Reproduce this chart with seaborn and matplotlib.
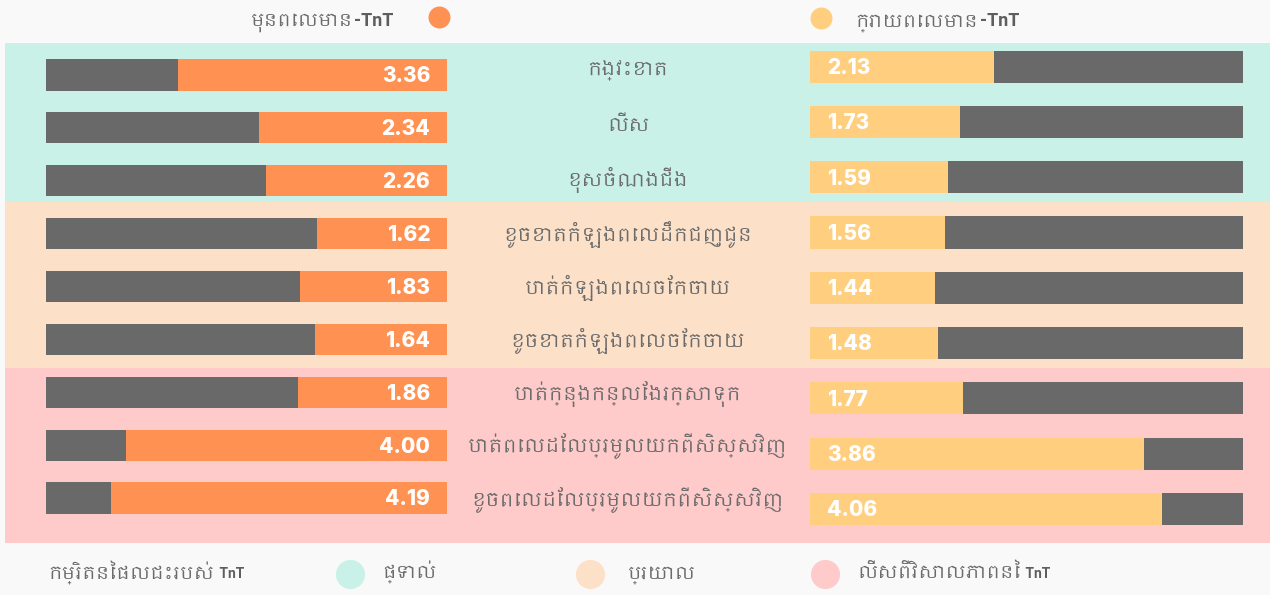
import matplotlib
matplotlib.use("Agg")
import matplotlib.pyplot as plt
import seaborn as sns
from matplotlib import font_manager
from matplotlib.ft2font import FT2Font
from matplotlib.patches import Rectangle

# Data
categories = [
    "កង្វះខាត",
    "លើស",
    "ខុសចំណងជើង",
    "ខូចខាតកំឡុងពេលដឹកជញ្ជូន",
    "បាត់កំឡុងពេលចែកចាយ",
    "ខូចខាតកំឡុងពេលចែកចាយ",
    "បាត់ក្នុងកន្លែងរក្សាទុក",
    "បាត់ពេលដែលប្រមូលយកពីសិស្សវិញ",
    "ខូចពេលដែលប្រមូលយកពីសិស្សវិញ",
]
before_tnt = [3.36, 2.34, 2.26, 1.62, 1.83, 1.64, 1.86, 4.00, 4.19]
after_tnt = [2.13, 1.73, 1.59, 1.56, 1.44, 1.48, 1.77, 3.86, 4.06]
scale_max = [5.0] * len(categories)

series_labels = ["មុនពេលមាន", "ក្រោយពេលមាន"]
series_suffix = "-TnT"
impact_title = "កម្រិតនៃផលជះរបស់"
impact_labels = ["ផ្ទាល់", "ប្រយោល", "លើសពីវិសាលភាពនៃ"]
impact_suffix = [None, None, " TnT"]

# Colours
ORANGE = "#FF9152"
YELLOW = "#FFCE7E"
GRAY = "#696969"
TEXT = "#6B6B6B"
BG = "#F9F9F9"
BANDS = ["#C9F1E7", "#FCE1C8", "#FFCACA"]


def find_khmer_font():
    for f in font_manager.fontManager.ttflist:
        if "khmer" in f.name.lower():
            return f.name
    for f in font_manager.fontManager.ttflist:
        try:
            if 0x1780 in FT2Font(f.fname).get_charmap():
                return f.name
        except Exception:
            pass
    return None


sns.set_theme(style="white")
khmer = find_khmer_font()
families = ([khmer] if khmer else []) + ["Roboto", "DejaVu Sans"]
plt.rcParams["font.family"] = families
LATIN = ["Roboto", "DejaVu Sans"]

W, H = 1270, 595
fig = plt.figure(figsize=(W / 100, H / 100), dpi=100, facecolor=BG)
renderer = fig.canvas.get_renderer()

# background layer in pixel coordinates
bg = fig.add_axes([0, 0, 1, 1], zorder=0)
bg.set_xlim(0, W)
bg.set_ylim(H, 0)
bg.axis("off")
for (top, bottom), c in zip([(43, 202), (202, 368), (368, 543)], BANDS):
    bg.add_patch(Rectangle((5, top), W - 5, bottom - top, color=c, lw=0))


def text_right_of(t, s, size, y):
    x1 = bg.transData.inverted().transform(t.get_window_extent(renderer))[1][0]
    return bg.text(x1 + 2, y, s, ha="left", va="baseline", fontsize=size,
                   color="#5E5E5E", fontweight="bold", family=LATIN)


# legend top
suf = bg.text(393, 26, series_suffix, ha="right", va="baseline", fontsize=13,
              color="#5E5E5E", fontweight="bold", family=LATIN)
x0 = bg.transData.inverted().transform(suf.get_window_extent(renderer))[0][0]
bg.text(x0, 26, series_labels[0], ha="right", va="baseline", fontsize=13, color=TEXT)
bg.scatter([439], [17], s=250, color=ORANGE, lw=0)

bg.scatter([821], [18], s=250, color=YELLOW, lw=0)
t = bg.text(855, 26, series_labels[1], ha="left", va="baseline", fontsize=13, color=TEXT)
text_right_of(t, series_suffix, 13, 26)

# legend bottom
t = bg.text(48, 578, impact_title, ha="left", va="baseline", fontsize=13, color=TEXT)
text_right_of(t, " TnT", 10, 578)
for x_c, x_t, c, lab, sfx in zip([350, 590, 825], [382, 628, 857], BANDS,
                                 impact_labels, impact_suffix):
    bg.scatter([x_c], [574], s=440, color=c, lw=0)
    t = bg.text(x_t, 578, lab, ha="left", va="baseline", fontsize=13, color=TEXT)
    if sfx:
        text_right_of(t, sfx, 10, 578)

NUM_FONT = dict(color="white", fontsize=15, fontweight=800,
                family=["Inter", "DejaVu Sans"])

# left bars (before), growing from the right
axl = fig.add_axes([46 / W, 1 - 524.5 / H, 401 / W, 476 / H], zorder=1)
axl.patch.set_alpha(0)
sns.barplot(x=scale_max, y=categories, color=GRAY, width=0.59, ax=axl,
            saturation=1, linewidth=0)
sns.barplot(x=before_tnt, y=categories, color=ORANGE, width=0.59, ax=axl,
            saturation=1, linewidth=0)
axl.set_xlim(5, 0)
axl.set_ylim(8.5, -0.5)
axl.axis("off")
for i, v in enumerate(before_tnt):
    axl.annotate(f"{v:.2f}", (0, i), xytext=(-12, -1), textcoords="offset points",
                 ha="right", va="center", **NUM_FONT)

# right bars (after), growing from the left
axr = fig.add_axes([810 / W, 1 - 536.5 / H, 433 / W, 497.5 / H], zorder=1)
axr.patch.set_alpha(0)
sns.barplot(x=scale_max, y=categories, color=GRAY, width=0.58, ax=axr,
            saturation=1, linewidth=0)
sns.barplot(x=after_tnt, y=categories, color=YELLOW, width=0.58, ax=axr,
            saturation=1, linewidth=0)
axr.set_xlim(0, 5)
axr.set_ylim(8.5, -0.5)
axr.axis("off")
for i, v in enumerate(after_tnt):
    axr.annotate(f"{v:.2f}", (0, i), xytext=(12, -1), textcoords="offset points",
                 ha="left", va="center", **NUM_FONT)

# category labels in the middle
label_y = [71, 126, 180, 235, 288, 341, 394, 446, 500]
for y, lab in zip(label_y, categories):
    bg.text(628, y, lab, ha="center", va="center", fontsize=13.5, color=TEXT)

fig.savefig("out.png", dpi=100, facecolor=BG)
